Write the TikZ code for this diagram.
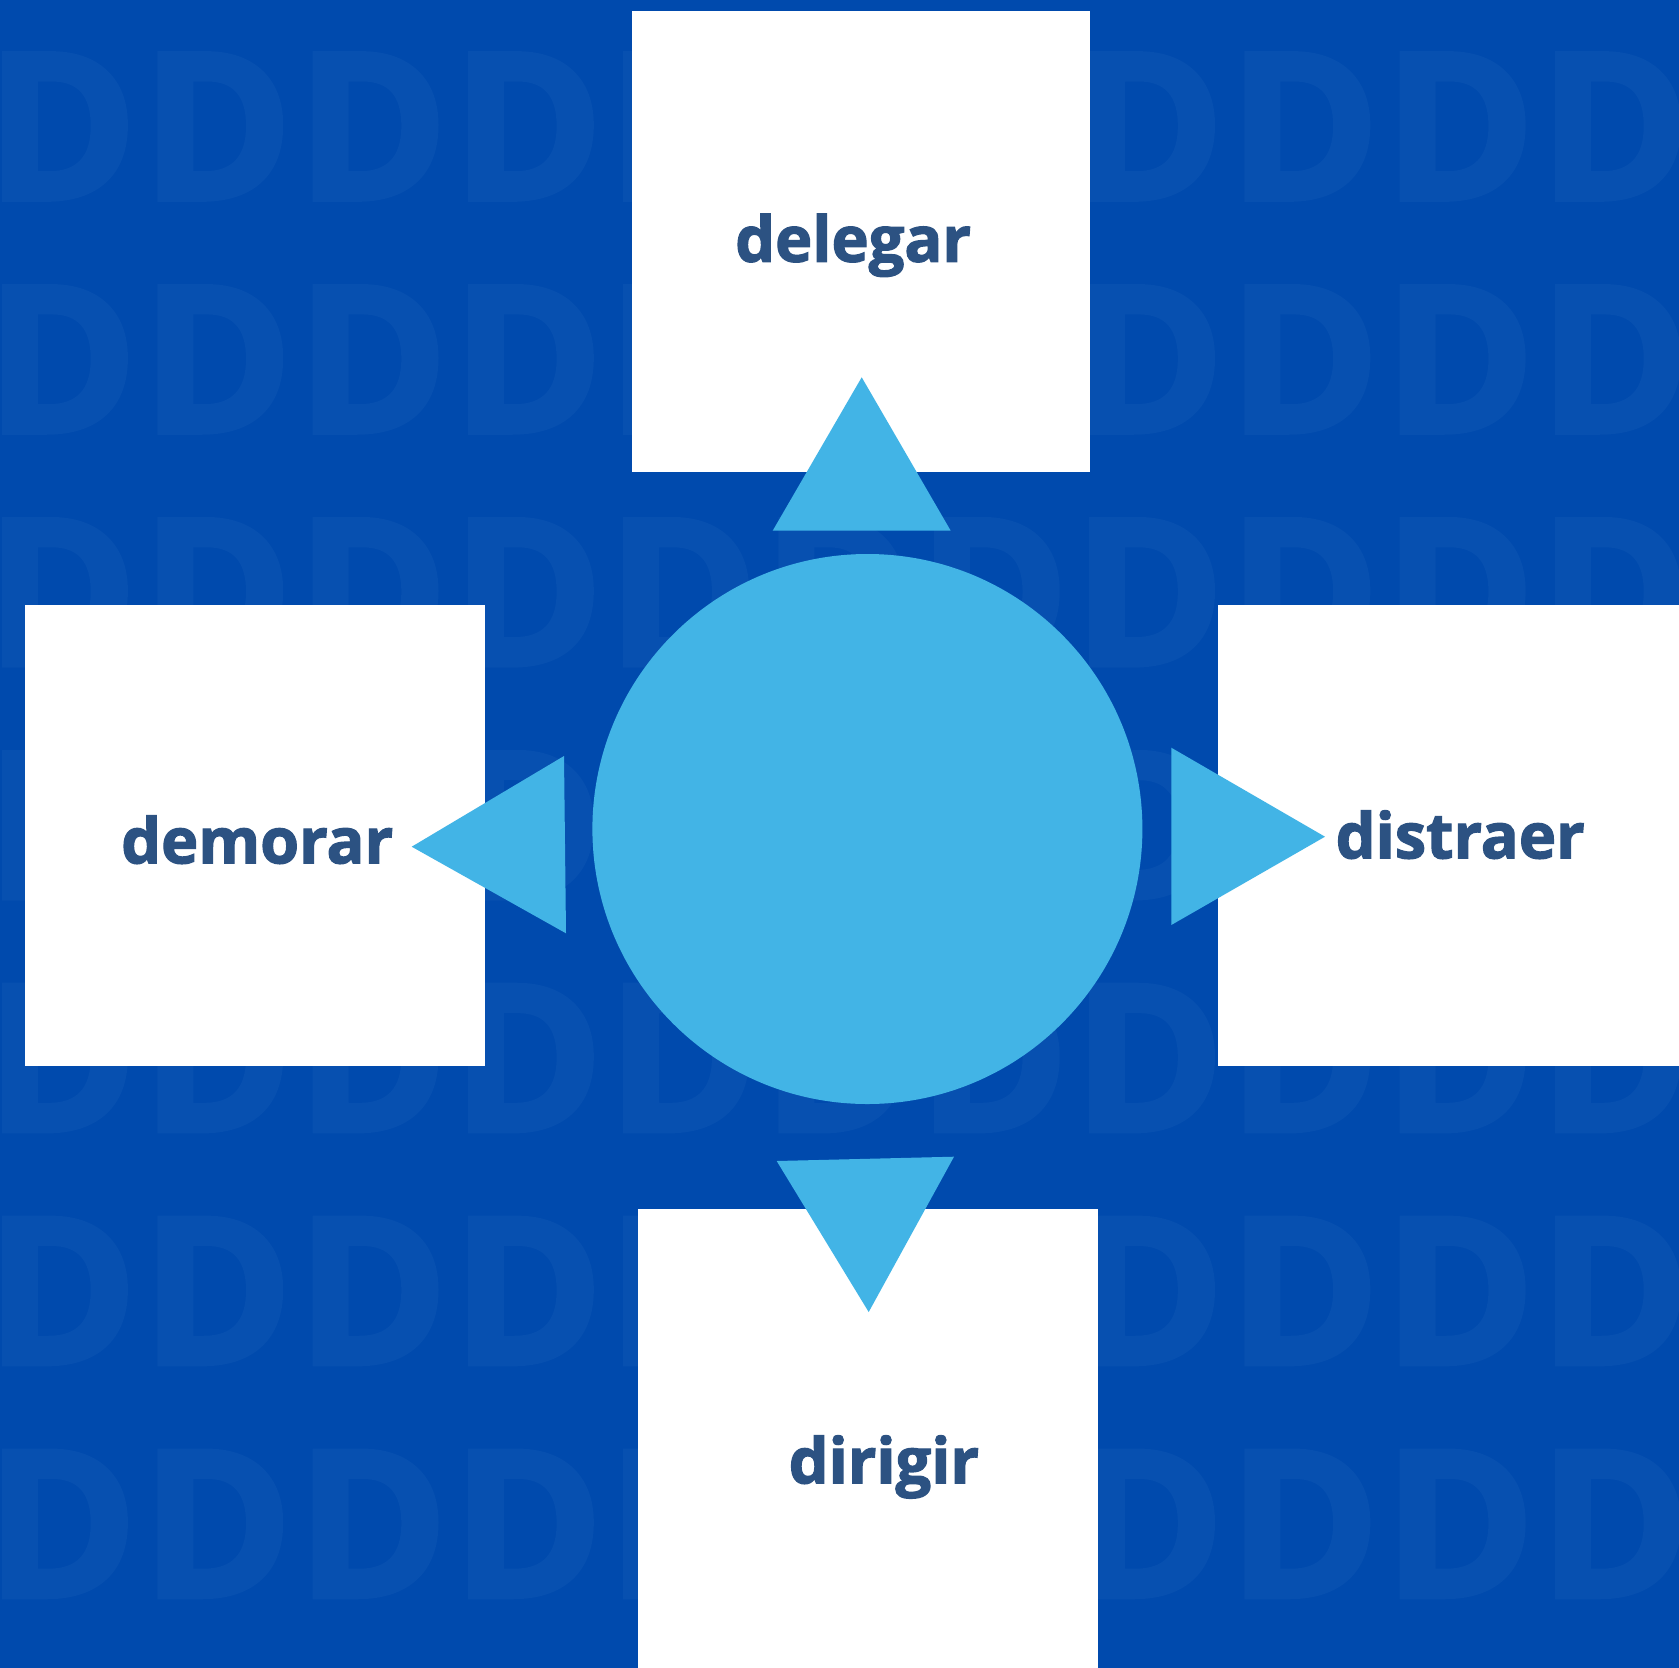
\documentclass[tikz,border=0pt]{standalone}
\usepackage{fontspec}
\newfontfamily\tilefont{Open Sans}[BoldFeatures={FakeBold=2.5}]
\newfontfamily\labelfont{Open Sans}[BoldFeatures={FakeBold=2}]
\definecolor{bgblue}{RGB}{0,74,173}
\definecolor{tileblue}{RGB}{7,80,176}
\definecolor{skyblue}{RGB}{66,180,230}
\definecolor{textblue}{RGB}{44,82,130}
\begin{document}
\begin{tikzpicture}[x=1pt,y=-1pt,
  dtile/.style={anchor=base west,inner sep=0pt,text=tileblue,font=\tilefont\bfseries\fontsize{204}{204}\selectfont},
  whitebox/.style={fill=white,draw=none,inner sep=0pt},
  label/.style={anchor=base west,inner sep=0pt,text=textblue,font=\labelfont\bfseries\fontsize{63}{70}\selectfont},
  hub/.style={circle,fill=skyblue,draw=none,inner sep=0pt,minimum size=550pt},
  pointer/.style={fill=skyblue,draw=none}]
\useasboundingbox (0,0) rectangle (1679,1668);
\fill[bgblue] (0,0) rectangle (1679,1668);
% background pattern (tiles wholly hidden under the boxes are left out)
\foreach \r in {0,...,6}{
  \foreach \c in {0,...,10}{
    \pgfmathtruncatemacro{\hidden}{
      ((\r==0 || \r==1) && (\c==5 || \c==6)) ||
      (\r==3 && (\c==1 || \c==2 || \c==8 || \c==9 || \c==10)) ||
      ((\r==5 || \r==6) && (\c==5 || \c==6))}
    \ifnum\hidden=0
      \node[dtile] (d-\r-\c) at ({-14+155.3*\c},{199.3+232.9*\r}) {D};
    \fi
  }
}
% boxes
\node[whitebox,minimum width=458pt,minimum height=461pt] (topbox) at (861,241) {};
\node[whitebox,minimum width=460pt,minimum height=461pt] (leftbox) at (254.8,835.5) {};
\node[whitebox,minimum width=461pt,minimum height=461pt] (rightbox) at (1448.5,835.5) {};
\node[whitebox,minimum width=460pt,minimum height=459pt] (bottombox) at (867.8,1438.7) {};
% hub
\node[hub] (hub) at (867.4,829) {};
% pointers
\coordinate (tA) at (861.7,377.3); \coordinate (tB) at (772.7,530.7); \coordinate (tC) at (950.7,530.7);
\coordinate (lA) at (411.7,846.7); \coordinate (lB) at (564,756); \coordinate (lC) at (566,933.3);
\coordinate (rA) at (1325,836.7); \coordinate (rB) at (1171.3,747.7); \coordinate (rC) at (1171.3,925);
\coordinate (bA) at (868.7,1312); \coordinate (bB) at (776.7,1161); \coordinate (bC) at (954,1156.7);
\fill[pointer] (tA) -- (tB) -- (tC) -- cycle;
\fill[pointer] (lA) -- (lB) -- (lC) -- cycle;
\fill[pointer] (rA) -- (rB) -- (rC) -- cycle;
\fill[pointer] (bA) -- (bB) -- (bC) -- cycle;
% labels
\node[label] (tdelegar) at (735,261.7) {delegar};
\node[label] (tdemorar) at (121,863.3) {demorar};
\node[label] (tdistraer) at (1335.5,858.3) {distraer};
\node[label] (tdirigir) at (788.5,1483.3) {dirigir};
\end{tikzpicture}
\end{document}
